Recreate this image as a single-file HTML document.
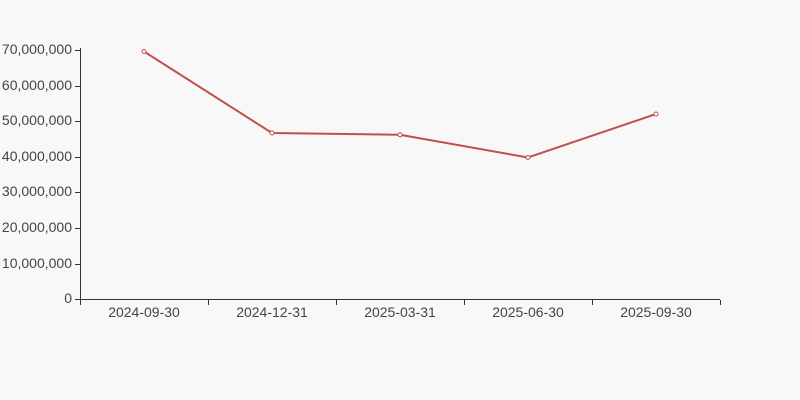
<!DOCTYPE html><html><head><style>body{margin:0;background:#f8f8f8}svg{display:block}text{font-family:"Liberation Sans",sans-serif;font-size:14px;fill:#444}</style></head><body>
<svg width="800" height="400" viewBox="0 0 800 400">
<rect width="800" height="400" fill="#f8f8f8"/>
<g stroke="#333" stroke-width="1">
<line x1="80.5" y1="48" x2="80.5" y2="300"/>
<line x1="80" y1="299.5" x2="720" y2="299.5"/>
<line x1="75" y1="50.5" x2="80" y2="50.5"/><line x1="75" y1="86.5" x2="80" y2="86.5"/><line x1="75" y1="121.5" x2="80" y2="121.5"/><line x1="75" y1="157.5" x2="80" y2="157.5"/><line x1="75" y1="192.5" x2="80" y2="192.5"/><line x1="75" y1="228.5" x2="80" y2="228.5"/><line x1="75" y1="264.5" x2="80" y2="264.5"/><line x1="75" y1="299.5" x2="80" y2="299.5"/>
<line x1="80.5" y1="300" x2="80.5" y2="305"/><line x1="208.5" y1="300" x2="208.5" y2="305"/><line x1="336.5" y1="300" x2="336.5" y2="305"/><line x1="464.5" y1="300" x2="464.5" y2="305"/><line x1="592.5" y1="300" x2="592.5" y2="305"/><line x1="720.5" y1="300" x2="720.5" y2="305"/>
</g>
<g text-anchor="end">
<text x="72" y="54">70,000,000</text><text x="72" y="90">60,000,000</text><text x="72" y="125">50,000,000</text><text x="72" y="161">40,000,000</text><text x="72" y="196">30,000,000</text><text x="72" y="232">20,000,000</text><text x="72" y="268">10,000,000</text><text x="72" y="303">0</text>
</g>
<g text-anchor="middle">
<text x="144" y="317">2024-09-30</text><text x="272" y="317">2024-12-31</text><text x="400" y="317">2025-03-31</text><text x="528" y="317">2025-06-30</text><text x="656" y="317">2025-09-30</text>
</g>
<polyline points="144,51.5 272,133 400,134.8 528,157.5 656,114" fill="none" stroke="#c0504d" stroke-width="2"/>
<g fill="#fff" stroke="#c0504d" stroke-width="1">
<circle cx="144" cy="51.5" r="2"/><circle cx="272" cy="133" r="2"/><circle cx="400" cy="134.8" r="2"/><circle cx="528" cy="157.5" r="2"/><circle cx="656" cy="114" r="2"/>
</g>
</svg></body></html>
